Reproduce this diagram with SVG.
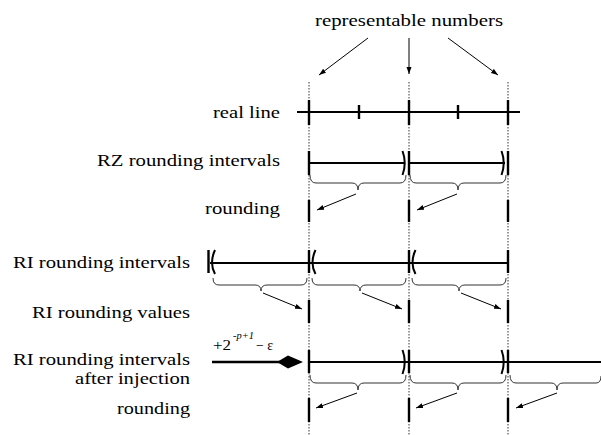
<svg xmlns="http://www.w3.org/2000/svg" width="601" height="435" viewBox="0 0 601 435">
<defs>
<marker id="ah" markerWidth="8" markerHeight="6" refX="7" refY="3" orient="auto" markerUnits="userSpaceOnUse">
<path d="M0,0.5 L7,3 L0,5.5 Z" fill="#000"/>
</marker>
<style>
.lbl{font-family:"Liberation Serif","Times New Roman",serif;font-size:17.5px;fill:#000}
.ax{stroke:#000;stroke-width:2;fill:none}
.tk{stroke:#000;stroke-width:2.4;fill:none}
.par{stroke:#000;stroke-width:2;fill:none}
.br{stroke:#333;stroke-width:1;fill:none}
.ar{stroke:#000;stroke-width:1;fill:none;marker-end:url(#ah)}
.dot{stroke:#000;stroke-width:0.8;stroke-dasharray:1.5,1.5;fill:none}
.fm{font-family:"Liberation Serif","Times New Roman",serif;fill:#000}
</style>
</defs>
<rect width="601" height="435" fill="#fff"/>

<g id="guides">
<line class="dot" x1="309" y1="82" x2="309" y2="435"/>
<line class="dot" x1="409" y1="82" x2="409" y2="435"/>
<line class="dot" x1="508" y1="82" x2="508" y2="435"/>
</g>

<g id="title">
<text class="lbl" x="315" y="26" textLength="188" lengthAdjust="spacingAndGlyphs">representable numbers</text>
</g>

<g id="realline">
<text class="lbl" x="213" y="118" textLength="67" lengthAdjust="spacingAndGlyphs">real line</text>
<line class="ax" x1="297" y1="112" x2="520" y2="112"/>
<line class="tk" x1="309" y1="100" x2="309" y2="125"/>
<line class="tk" x1="409" y1="100" x2="409" y2="125"/>
<line class="tk" x1="508" y1="100" x2="508" y2="125"/>
<line class="tk" x1="359" y1="105" x2="359" y2="119"/>
<line class="tk" x1="458" y1="105" x2="458" y2="119"/>
</g>

<g id="rz-intervals">
<text class="lbl" x="97" y="166" textLength="183" lengthAdjust="spacingAndGlyphs">RZ rounding intervals</text>
<line class="ax" x1="309" y1="163" x2="405" y2="163"/>
<line class="ax" x1="409" y1="163" x2="505" y2="163"/>
<line class="tk" x1="309" y1="151" x2="309" y2="175"/>
<line class="tk" x1="409" y1="151" x2="409" y2="175"/>
<line class="tk" x1="508" y1="151" x2="508" y2="175"/>
<path class="par" d="M402.5,151 Q407,163 402.5,175"/>
<path class="par" d="M501.5,151 Q506,163 501.5,175"/>
<path class="br" d="M310,175 Q310,183 316,183 L352,183 Q358,183 358,190 Q358,183 364,183 L400,183 Q406,183 406,175"/>
<path class="br" d="M410,175 Q410,183 416,183 L452,183 Q458,183 458,190 Q458,183 464,183 L500,183 Q506,183 506,175"/>
</g>

<g id="rz-rounding">
<text class="lbl" x="205" y="214" textLength="75" lengthAdjust="spacingAndGlyphs">rounding</text>
<line class="tk" x1="309" y1="200" x2="309" y2="222"/>
<line class="tk" x1="409" y1="200" x2="409" y2="222"/>
<line class="tk" x1="508" y1="200" x2="508" y2="222"/>
</g>

<g id="ri-intervals">
<text class="lbl" x="13" y="268" textLength="177" lengthAdjust="spacingAndGlyphs">RI rounding intervals</text>
<line class="ax" x1="210" y1="263" x2="507" y2="263"/>
<line class="tk" x1="208.5" y1="250" x2="208.5" y2="273"/>
<line class="tk" x1="309" y1="250" x2="309" y2="273"/>
<line class="tk" x1="409" y1="250" x2="409" y2="273"/>
<line class="tk" x1="508" y1="250" x2="508" y2="273"/>
<path class="par" d="M215,250 Q209,263 215,274"/>
<path class="par" d="M315.5,250 Q309.5,263 315.5,274"/>
<path class="par" d="M415.5,250 Q409.5,263 415.5,274"/>
<path class="br" d="M213,278 Q213,285 219,285 L255,285 Q261,285 261,291 Q261,285 267,285 L301,285 Q307,285 307,278"/>
<path class="br" d="M312,278 Q312,285 318,285 L354,285 Q360,285 360,291 Q360,285 366,285 L400,285 Q406,285 406,278"/>
<path class="br" d="M412,278 Q412,285 418,285 L453,285 Q459,285 459,291 Q459,285 465,285 L500,285 Q506,285 506,278"/>
</g>

<g id="ri-values">
<text class="lbl" x="32" y="318" textLength="158" lengthAdjust="spacingAndGlyphs">RI rounding values</text>
<line class="tk" x1="309" y1="300" x2="309" y2="323"/>
<line class="tk" x1="409" y1="300" x2="409" y2="323"/>
<line class="tk" x1="508" y1="300" x2="508" y2="323"/>
</g>

<g id="injection">
<text class="lbl" x="13" y="365" textLength="177" lengthAdjust="spacingAndGlyphs">RI rounding intervals</text>
<text class="lbl" x="75" y="383.5" textLength="115" lengthAdjust="spacingAndGlyphs">after injection</text>
<text class="fm" x="213" y="350" font-size="14" textLength="18" lengthAdjust="spacingAndGlyphs">+2</text>
<text class="fm" x="233" y="338.5" font-size="11" font-style="italic" textLength="21" lengthAdjust="spacingAndGlyphs">-p+1</text>
<text class="fm" x="256" y="350" font-size="14" textLength="17" lengthAdjust="spacingAndGlyphs">− ε</text>
<line x1="212" y1="362" x2="280" y2="362" stroke="#000" stroke-width="2.4"/>
<path d="M277,362 L288,355.5 L303,362 L288,368.5 Z" fill="#000"/>
<line class="ax" x1="309" y1="362" x2="601" y2="362"/>
<line class="tk" x1="309" y1="350" x2="309" y2="373"/>
<line class="tk" x1="409" y1="350" x2="409" y2="373"/>
<line class="tk" x1="508" y1="350" x2="508" y2="373"/>
<path class="par" d="M402.5,350 Q407,362 402.5,374"/>
<path class="par" d="M501.5,350 Q506,362 501.5,374"/>
<path class="br" d="M310,375 Q310,383 316,383 L352,383 Q358,383 358,390 Q358,383 364,383 L400,383 Q406,383 406,375"/>
<path class="br" d="M410,375 Q410,383 416,383 L452,383 Q458,383 458,390 Q458,383 464,383 L500,383 Q506,383 506,375"/>
<path class="br" d="M510,375 Q510,383 516,383 L551,383 Q557,383 557,390 Q557,383 563,383 L596,383 Q601,383 601,376"/>
</g>

<g id="inj-rounding">
<text class="lbl" x="117" y="414" textLength="73" lengthAdjust="spacingAndGlyphs">rounding</text>
<line class="tk" x1="309" y1="398" x2="309" y2="422"/>
<line class="tk" x1="409" y1="398" x2="409" y2="422"/>
<line class="tk" x1="508" y1="398" x2="508" y2="422"/>
</g>

<g id="connectors">
<line class="ar" x1="368" y1="38" x2="319" y2="75"/>
<line class="ar" x1="409" y1="38" x2="409" y2="74"/>
<line class="ar" x1="448" y1="38" x2="498" y2="75"/>
<line class="ar" x1="356" y1="194" x2="317" y2="210"/>
<line class="ar" x1="457" y1="194" x2="417" y2="210"/>
<line class="ar" x1="263" y1="293" x2="302" y2="309"/>
<line class="ar" x1="362" y1="293" x2="402" y2="309"/>
<line class="ar" x1="461" y1="293" x2="501" y2="309"/>
<line class="ar" x1="357" y1="393" x2="316" y2="408"/>
<line class="ar" x1="457" y1="393" x2="416" y2="408"/>
<line class="ar" x1="557" y1="393" x2="516" y2="408"/>
</g>
</svg>
